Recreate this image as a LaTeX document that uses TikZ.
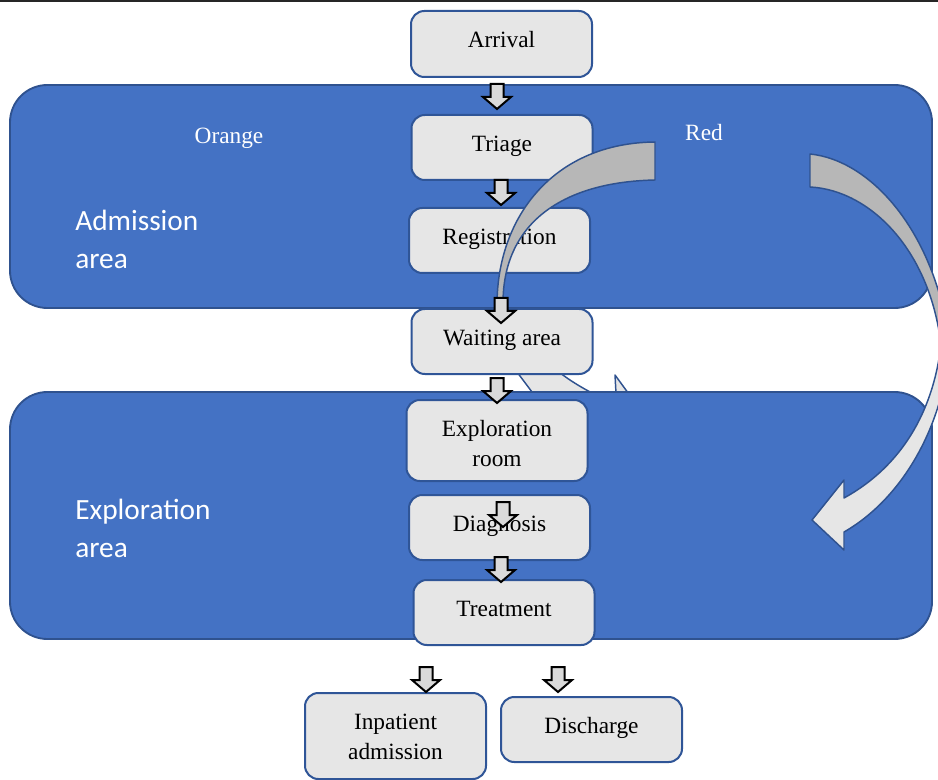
\documentclass[tikz,border=0pt]{standalone}
\usepackage{fontspec}
\setmainfont{Liberation Serif}
\newfontfamily\calib{Carlito}
\definecolor{areablue}{HTML}{4472C4}
\definecolor{areaedge}{HTML}{2F528F}
\definecolor{boxgray}{HTML}{E6E6E6}
\definecolor{boxedge}{HTML}{2F5597}
\definecolor{banddark}{HTML}{B7B7B7}
\definecolor{bandlight}{HTML}{E6E6E6}
\definecolor{arrfill}{HTML}{DADADA}
\begin{document}
\begin{tikzpicture}[x=0.75pt,y=-0.75pt,
  area/.style={rectangle, fill=areablue, draw=areaedge, line width=1.4pt, rounded corners=28pt, inner sep=0pt},
  box/.style={rectangle, rounded corners=10pt, fill=boxgray, draw=boxedge, line width=1.5pt,
    align=center, inner sep=0pt, minimum width=135.75pt, minimum height=48.75pt,
    text height=12pt, text depth=6pt,
    font=\fontsize{17.5pt}{22.5pt}\selectfont},
  band/.style={draw=areaedge, line width=1.1pt, line join=round},
  arealabel/.style={text=white, align=left, anchor=west, inner sep=0pt,
    font=\calib\fontsize{22pt}{28.5pt}\selectfont},
  colourlabel/.style={text=white, inner sep=0pt, font=\fontsize{17.5pt}{22.5pt}\selectfont},
  dnarrow/.pic={\draw[fill=arrfill, draw=black, line width=1.5pt, line join=miter]
     (-6.5,0) -- (6.5,0) -- (6.5,13) -- (14,13) -- (0,25) -- (-14,13) -- (-6.5,13) -- cycle;}
]
\useasboundingbox (0,0) rectangle (938,780);
\clip (0,0) rectangle (938,780);
\draw[line width=1.5pt, draw=black!85] (0,0.8) -- (938,0.8);

% admission area
\node[area, minimum width=691.5pt, minimum height=167.25pt] (adm) at (471,196.5) {};

% red arrow: back band
\draw[band, fill=banddark]
  (810,154) .. controls (870,160) and (935,230) .. (950,345)
  -- (941,345) .. controls (930,250) and (870,190) .. (810,187) -- cycle;

% orange arrow: hidden front part (seen between the areas)
\draw[band, fill=bandlight]
  (508,360) -- (547,412) -- (632,412) .. controls (595,396) and (565,380) .. (548,362) -- cycle;
\draw[band, fill=bandlight] (615,375) -- (617,412) -- (642,412) -- cycle;

% exploration area
\node[area, minimum width=691.5pt, minimum height=185.25pt] (exa) at (471,515.5) {};

% red arrow: front band with head
\draw[band, fill=bandlight]
  (950,345) .. controls (943,430) and (900,500) .. (844,532)
  -- (844,550) -- (812,520) -- (844,480) -- (844,498)
  .. controls (895,470) and (932,420) .. (941,345) -- cycle;

% boxes
\node[box, minimum height=49.5pt] (arr) at (501.5,44) {Arrival};
\node[box] (tri) at (502,147.5) {Triage};
\node[box] (reg) at (499.5,240.5) {Registration};

% orange arrow: back band
\draw[band, fill=banddark]
  (655,142) .. controls (555,143) and (498,215) .. (497,303)
  -- (503,303) .. controls (503,225) and (560,182) .. (655,180) -- cycle;

\node[box] (wai) at (502,341.5) {Waiting area};
\node[box, minimum height=60.75pt, text height=39pt, text depth=0pt] (exr) at (497,440.5) {Exploration\\room};
\node[box] (dia) at (499.5,527.5) {Diagnosis};
\node[box] (tre) at (504,612.5) {Treatment};
\node[box, minimum height=64.5pt, text height=35pt, text depth=0pt] (inp) at (395.5,736) {Inpatient\\admission};
\node[box] (dis) at (591.5,729.5) {Discharge};

% small block arrows
\pic at (497,84) {dnarrow};
\pic at (501,180) {dnarrow};
\pic at (501,298) {dnarrow};
\pic at (497,378) {dnarrow};
\pic at (503,502) {dnarrow};
\pic at (501,557) {dnarrow};
\pic at (426,667) {dnarrow};
\pic at (558,667) {dnarrow};

% labels
\node[colourlabel] (orl) at (229,138.5) {Orange};
\node[colourlabel] (rdl) at (704,133) {Red};
\node[arealabel] (adl) at (75,239) {Admission\\area};
\node[arealabel] (exl) at (75,528) {Exploration\\area};
\end{tikzpicture}
\end{document}
